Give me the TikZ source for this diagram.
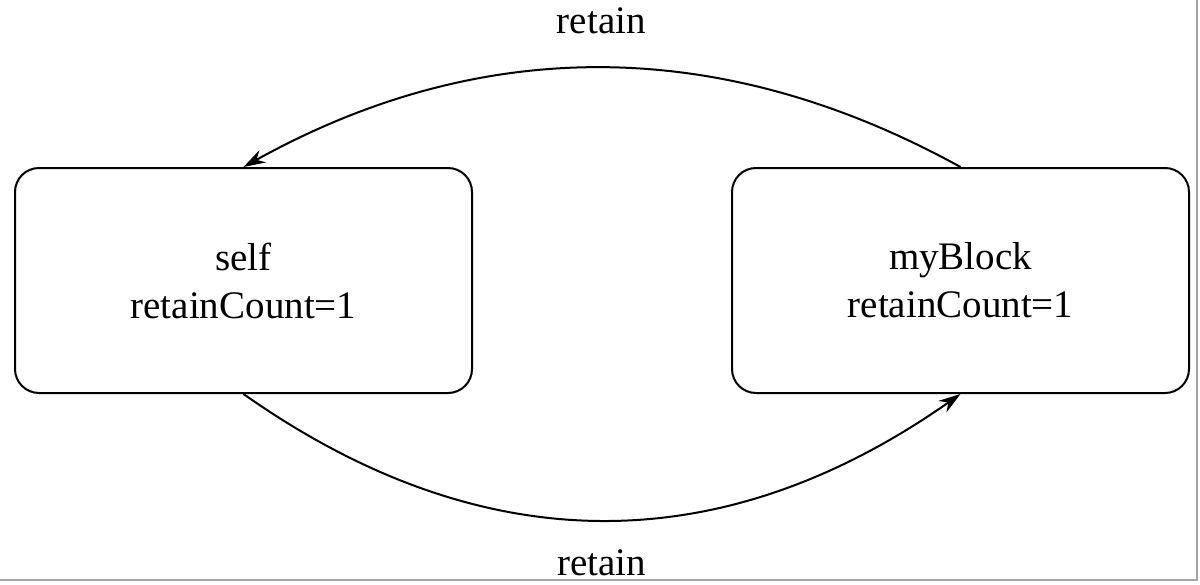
\documentclass[tikz,border=0pt]{standalone}
\usepackage{fontspec}
\setmainfont{Liberation Serif}
\usetikzlibrary{arrows.meta}

\begin{document}
\begin{tikzpicture}[x=0.5pt,y=-0.5pt]
  % one unit is one pixel of the original figure, y grows downwards
  \tikzset{
    objbox/.style={draw, line width=1pt, rounded corners=12pt,
      minimum width=228.5pt, minimum height=112.5pt, align=center,
      font=\fontsize{19.5}{24}\selectfont},
    refline/.style={line width=1pt, -{Stealth[length=11pt,width=7pt]}},
    lbl/.style={font=\fontsize{19.5}{22}\selectfont}
  }
  \useasboundingbox (0,0) rectangle (1200,584);
  \node[objbox] (self) at (243.5,280.5) {self\\retainCount=1};
  \node[objbox] (blk) at (960.5,280.5) {myBlock\\retainCount=1};
  \draw[refline] (blk.north) .. controls (721,35) and (481,35) .. (self.north)
    node[lbl, pos=0.5, above=13pt] {retain};
  \draw[refline] (self.south) .. controls (482,562) and (721,562) .. (blk.south)
    node[lbl, pos=0.5, below=11pt] {retain};
  % scan border
  \draw[gray!70, line width=1pt] (1197,0) -- (1197,580) -- (0,580);
\end{tikzpicture}
\end{document}
